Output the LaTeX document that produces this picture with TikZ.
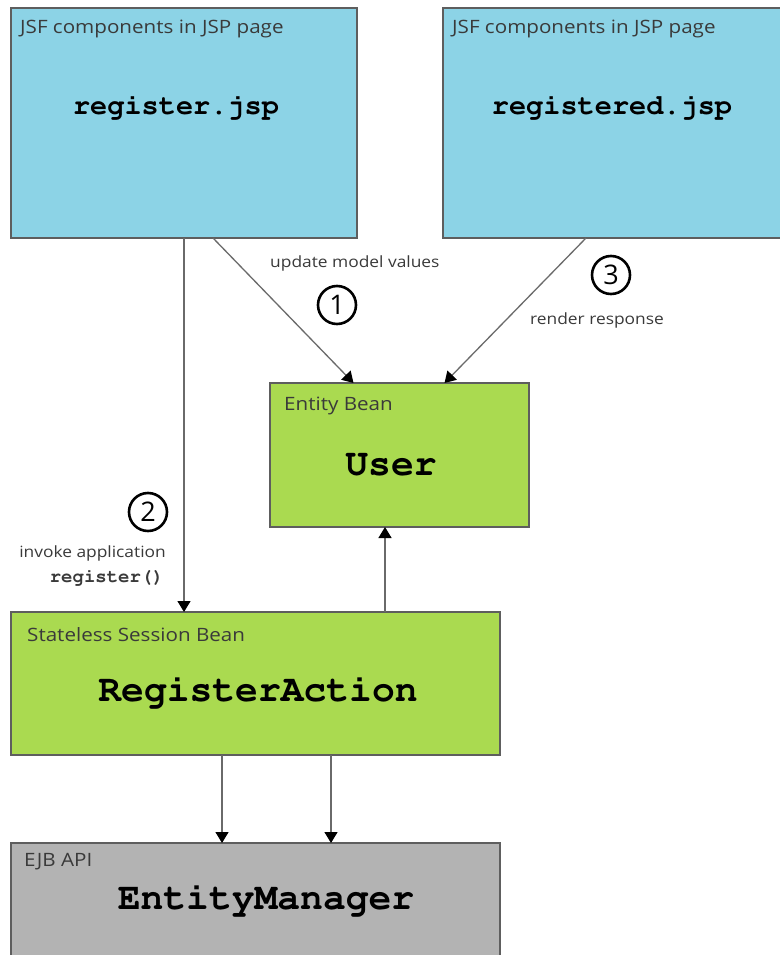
\documentclass[tikz,border=0pt]{standalone}
\usepackage{fontspec}
\setmainfont{Open Sans}
\newfontfamily\widesans{Open Sans}[FakeStretch=1.12]
\usetikzlibrary{arrows.meta,shadows,calc}
\definecolor{jspblue}{HTML}{8CD3E6}
\definecolor{beangreen}{HTML}{AADA50}
\definecolor{apigray}{HTML}{B3B3B3}
\definecolor{edgegray}{HTML}{5E5E5E}
\definecolor{linegray}{HTML}{6A6A6A}
\definecolor{txtgray}{HTML}{3A3A3A}
\newcommand{\courierbold}{\fontencoding{OT1}\fontfamily{pcr}\fontseries{b}\fontshape{n}}
\begin{document}
\begin{tikzpicture}[x=1pt,y=-1pt,
  boxstyle/.style={draw=edgegray,line width=1.4pt,rectangle,anchor=north west,inner sep=0pt,outer sep=0pt,
     drop shadow={shadow xshift=1.2pt,shadow yshift=-1.2pt,opacity=0.3}},
  boxtitle/.style={anchor=west,inner sep=0pt,font=\widesans\fontsize{18.4}{20}\selectfont,text=txtgray},
  bigmono/.style={inner sep=0pt,font=\courierbold\fontsize{38}{40}\selectfont},
  midmono/.style={inner sep=0pt,font=\courierbold\fontsize{28.6}{30}\selectfont},
  steplabel/.style={inner sep=0pt,font=\widesans\fontsize{15.5}{16}\selectfont,text=txtgray},
  numcircle/.style={circle,draw=black,line width=2.6pt,minimum size=38pt,inner sep=0pt,font=\fontsize{27}{27}\selectfont},
  arr/.style={draw=linegray,line width=1.3pt,-{Triangle[length=11pt,width=13pt,color=black]}}
]
\useasboundingbox[fill=white] (0,0) rectangle (779,955);
% boxes
\node[boxstyle,fill=jspblue,minimum width=346pt,minimum height=230pt] (reg) at (11,8) {};
\node[boxstyle,fill=jspblue,minimum width=360pt,minimum height=230pt] (regd) at (443,8) {};
\node[boxstyle,fill=beangreen,minimum width=259pt,minimum height=144pt] (user) at (270,383) {};
\node[boxstyle,fill=beangreen,minimum width=489pt,minimum height=143pt] (ra) at (11,612) {};
\node[boxstyle,fill=apigray,minimum width=489pt,minimum height=120pt] (em) at (11,843) {};
% box titles
\node[boxtitle] (regt) at (20,29) {JSF components in JSP page};
\node[boxtitle] (regdt) at (452,29) {JSF components in JSP page};
\node[boxtitle] (usert) at (284,406) {Entity Bean};
\node[boxtitle] (rat) at (27,635) {Stateless Session Bean};
\node[boxtitle] (emt) at (24,862) {EJB API};
% main texts
\node[midmono] (regn) at (176,107) {register.jsp};
\node[midmono] (regdn) at (612,107) {registered.jsp};
\node[bigmono] (usern) at (391,465) {User};
\node[bigmono] (ran) at (258,692) {RegisterAction};
\node[bigmono] (emn) at (266,900) {EntityManager};
% arrows
\draw[arr] (reg.south) -- (reg.south |- ra.north);
\draw[arr] ([xshift=29pt]reg.south) -- ([xshift=-46pt]user.north);
\draw[arr] ([xshift=143pt]regd.south west) -- ([xshift=45pt]user.north);
\coordinate (upstart) at ([xshift=-14.5pt]user.south |- ra.north);
\draw[arr] (upstart) -- ([xshift=-14.5pt]user.south);
\coordinate (d1) at ([xshift=-33.5pt]ra.south);
\coordinate (d2) at ([xshift=75.5pt]ra.south);
\draw[arr] (d1) -- (d1 |- em.north);
\draw[arr] (d2) -- (d2 |- em.north);
% step labels
\node[steplabel,anchor=west] (l1) at (270,263) {update model values};
\node[steplabel,anchor=west] (l3) at (530,320) {render response};
\node[steplabel,anchor=east] (l2) at (166,553) {invoke application};
\node[inner sep=0pt,anchor=east,font=\courierbold\fontsize{19}{19}\selectfont,text=txtgray] (l2b) at (164,578) {register()};
% numbers
\node[numcircle] (c1) at (337,305) {1};
\node[numcircle] (c2) at (148,512) {2};
\node[numcircle] (c3) at (611,275) {3};
\end{tikzpicture}
\end{document}
